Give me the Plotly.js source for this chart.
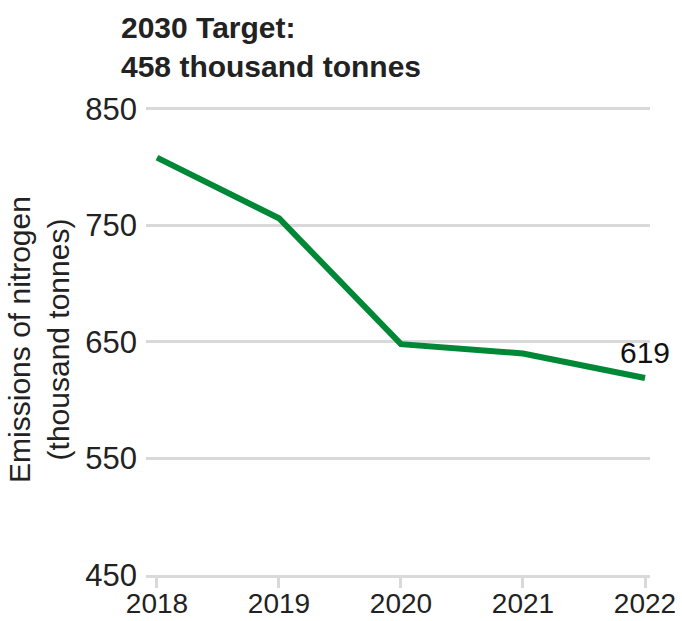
<!DOCTYPE html>
<html>
<head>
<meta charset="utf-8">
<script src="https://cdn.plot.ly/plotly-3.0.1.min.js"></script>
<style>html,body{margin:0;padding:0;background:#fff;}#chart{width:682px;height:621px;}</style>
</head>
<body>
<div id="chart"></div>
<script>
const years = [2018, 2019, 2020, 2021, 2022];
const emissions = [808, 756, 648, 640, 619];
const yTicks = [450, 550, 650, 750, 850];
const lastLabel = '619';

const trace = {
  x: years, y: emissions, type: 'scatter', mode: 'lines',
  line: {color: '#008837', width: 6}, hoverinfo: 'skip'
};

const layout = {
  width: 682, height: 621,
  margin: {l: 146, r: 32, t: 104, b: 46},
  paper_bgcolor: '#fff', plot_bgcolor: '#fff',
  showlegend: false,
  font: {family: 'Liberation Sans, Arial, sans-serif', color: '#222'},
  title: {
    text: '<b>2030 Target:<br>458 thousand tonnes</b>',
    xref: 'container', yref: 'container',
    x: 121/682, xanchor: 'left', y: 1 - 38/621, yanchor: 'top',
    font: {family: 'Liberation Sans, Arial', size: 30, color: '#222'}
  },
  xaxis: {
    range: [2017.91, 2022.041],
    tickvals: years, ticktext: years.map(String),
    showgrid: false, zeroline: false,
    showline: true, linecolor: '#d9d9d9', linewidth: 3,
    ticks: 'outside', ticklen: 10, tickwidth: 3, tickcolor: '#d9d9d9',
    ticklabelstandoff: -9,
    tickfont: {size: 28, color: '#222'},
    fixedrange: true
  },
  yaxis: {
    range: [450, 854],
    tickvals: yTicks,
    showgrid: true, gridcolor: '#d9d9d9', gridwidth: 3,
    zeroline: false, showline: false, ticks: '',
    ticklabelstandoff: 8,
    tickfont: {size: 31, color: '#222'},
    title: {text: 'Emissions of nitrogen<br>(thousand tonnes)', font: {size: 30, color: '#222'}, standoff: 6},
    fixedrange: true
  },
  annotations: [{
    x: years[years.length - 1], y: emissions[emissions.length - 1],
    text: lastLabel, showarrow: false, yshift: 25, xanchor: 'center', yanchor: 'middle',
    font: {size: 30, color: '#111'}
  }]
};

Plotly.newPlot('chart', [trace], layout, {displayModeBar: false, staticPlot: true});
</script>
</body>
</html>
